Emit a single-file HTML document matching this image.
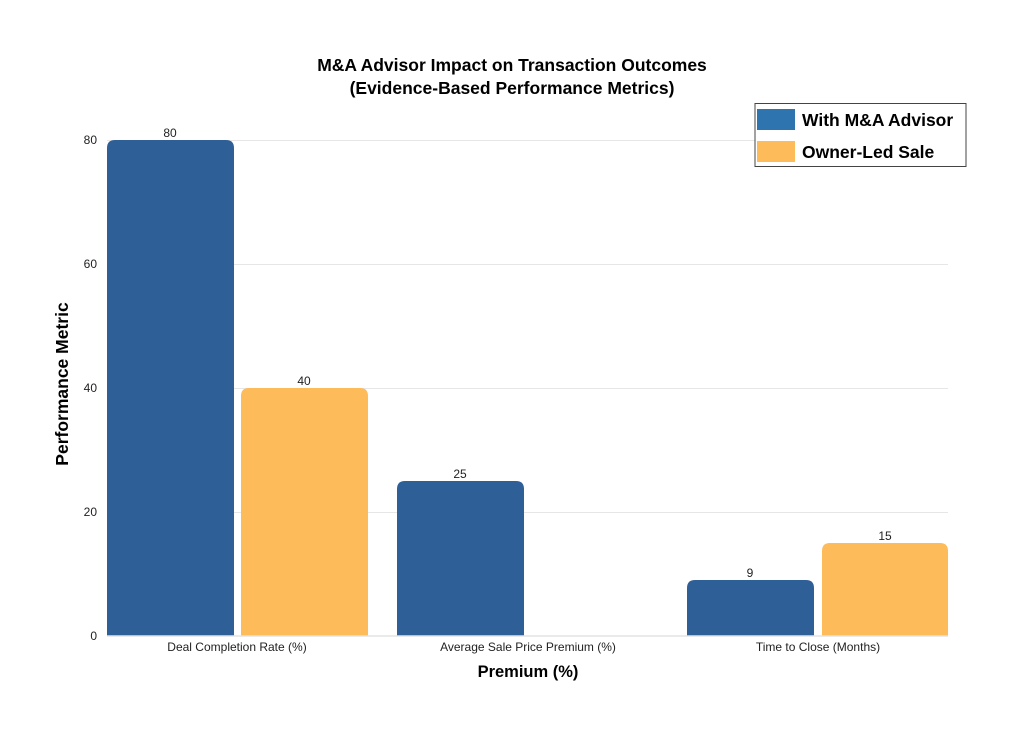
<!DOCTYPE html>
<html><head><meta charset="utf-8"><style>
html,body{margin:0;padding:0;background:#fff;}
svg{display:block;}
text{font-family:"Liberation Sans",sans-serif;}
</style></head><body>
<svg width="1024" height="734" viewBox="0 0 1024 734" xmlns="http://www.w3.org/2000/svg">
<rect width="1024" height="734" fill="#fff"/>
<!-- grid -->
<g stroke="#e6e6e6" stroke-width="1">
<line x1="107" x2="948" y1="140.5" y2="140.5"/>
<line x1="107" x2="948" y1="264.5" y2="264.5"/>
<line x1="107" x2="948" y1="388.5" y2="388.5"/>
<line x1="107" x2="948" y1="512.5" y2="512.5"/>
</g>
<!-- bars -->
<g>
<path d="M107,636 V148 Q107,140 115,140 H226 Q234,140 234,148 V636 Z" fill="#2e5f96"/>
<path d="M241,636 V396 Q241,388 249,388 H360 Q368,388 368,396 V636 Z" fill="#fdbb5a"/>
<path d="M397,636 V489 Q397,481 405,481 H516 Q524,481 524,489 V636 Z" fill="#2e5f96"/>
<path d="M687,636 V588 Q687,580 695,580 H806 Q814,580 814,588 V636 Z" fill="#2e5f96"/>
<path d="M822,636 V551 Q822,543 830,543 H940 Q948,543 948,551 V636 Z" fill="#fdbb5a"/>
</g>
<line x1="107" x2="948" y1="636" y2="636" stroke="#e3e3e3" stroke-width="1.5"/>
<!-- value labels -->
<g font-size="12" fill="#222" text-anchor="middle">
<text x="170" y="137">80</text>
<text x="304" y="385">40</text>
<text x="460" y="478">25</text>
<text x="750" y="577">9</text>
<text x="885" y="540">15</text>
</g>
<!-- y ticks -->
<g font-size="12" fill="#222" text-anchor="end">
<text x="97" y="144">80</text>
<text x="97" y="268">60</text>
<text x="97" y="392">40</text>
<text x="97" y="516">20</text>
<text x="97" y="640">0</text>
</g>
<!-- x ticks -->
<g font-size="12" fill="#222" text-anchor="middle">
<text x="237" y="651">Deal Completion Rate (%)</text>
<text x="528" y="651">Average Sale Price Premium (%)</text>
<text x="818" y="651">Time to Close (Months)</text>
</g>
<!-- titles -->
<g font-weight="bold" fill="#000" text-anchor="middle">
<text x="512" y="71" font-size="17.5">M&amp;A Advisor Impact on Transaction Outcomes</text>
<text x="512" y="94" font-size="17.5">(Evidence-Based Performance Metrics)</text>
<text x="528" y="677" font-size="16.5">Premium (%)</text>
<text transform="translate(68,384) rotate(-90)" font-size="17.5">Performance Metric</text>
</g>
<!-- legend -->
<rect x="755" y="103.5" width="211" height="63" fill="#fff" stroke="#444" stroke-width="1"/>
<rect x="757" y="109" width="38" height="21" fill="#2e75b0"/>
<rect x="757" y="141" width="38" height="21" fill="#fdbb5a"/>
<g font-size="17.5" font-weight="bold" fill="#000">
<text x="802" y="126">With M&amp;A Advisor</text>
<text x="802" y="158">Owner-Led Sale</text>
</g>
</svg>
</body></html>
